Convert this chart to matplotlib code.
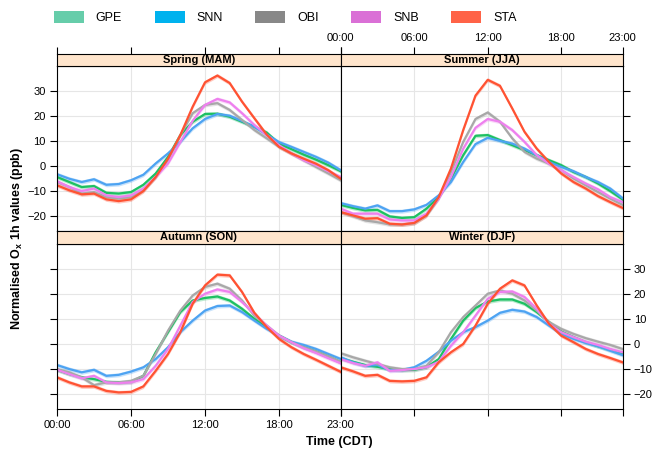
import numpy as np
import matplotlib.pyplot as plt
from matplotlib.patches import Patch

plt.rcParams['font.family'] = ['Liberation Sans', 'DejaVu Sans']
plt.rcParams['mathtext.fontset'] = 'custom'
plt.rcParams['mathtext.rm'] = 'Liberation Sans'
plt.rcParams['mathtext.bf'] = 'Liberation Sans:bold'

# DATA
hours = np.arange(24)
tick_hours = [0, 6, 12, 18, 23]
tick_labels = ['00:00', '06:00', '12:00', '18:00', '23:00']
y_ticks = [-20, -10, 0, 10, 20, 30]
sites = ['GPE', 'SNN', 'OBI', 'SNB', 'STA']
seasons = ['Spring (MAM)', 'Summer (JJA)', 'Autumn (SON)', 'Winter (DJF)']

spring_gpe = [-4.4, -6.4, -8.4, -8.0, -10.7, -11.0, -10.4, -7.5, -3.0, 3.6, 12.3, 17.6,
              20.7, 20.8, 19.6, 17.6, 15.6, 13.3, 8.9, 6.7, 4.5, 2.5, 0.3, -2.1]
spring_snn = [-3.3, -5.1, -6.4, -5.3, -7.5, -7.2, -5.7, -3.5, 1.0, 5.0, 9.6, 15.0,
              18.7, 20.7, 20.0, 17.9, 15.6, 12.5, 9.5, 7.6, 5.6, 3.6, 1.3, -1.7]
spring_obi = [-6.4, -8.4, -11.0, -10.4, -12.4, -13.0, -12.4, -9.7, -4.4, 2.3, 12.3, 21.0,
              24.3, 25.0, 22.3, 18.3, 14.3, 11.0, 7.6, 5.0, 2.3, -0.4, -3.0, -5.7]
spring_snb = [-6.1, -8.4, -10.0, -9.0, -11.7, -12.4, -11.7, -9.0, -4.4, 1.0, 9.5, 18.0,
              24.3, 26.7, 25.3, 21.0, 16.3, 12.3, 8.3, 5.0, 2.3, 0.3, -2.1, -4.4]
spring_sta = [-7.7, -9.7, -11.3, -11.0, -13.3, -14.0, -13.3, -10.0, -4.4, 2.9, 12.3, 23.6,
              33.3, 36.0, 33.0, 25.6, 19.0, 12.5, 7.6, 5.0, 2.9, 0.9, -1.7, -5.1]

summer_gpe = [-15.5, -16.7, -17.7, -17.5, -20.1, -20.7, -20.4, -17.0, -12.4, -5.0, 4.3, 12.0,
              12.3, 10.3, 8.3, 6.3, 4.3, 2.3, 0.3, -2.4, -4.4, -7.0, -10.0, -13.3]
summer_snn = [-14.8, -16.0, -17.0, -15.7, -18.0, -18.0, -17.3, -15.5, -11.7, -6.4, 1.6, 8.7,
              11.2, 10.0, 8.9, 6.9, 4.3, 1.6, -0.4, -2.1, -4.4, -6.4, -9.0, -12.8]
summer_obi = [-18.4, -20.0, -21.7, -22.4, -23.3, -23.3, -22.8, -19.7, -13.0, -2.4, 9.6, 18.7,
              21.3, 17.6, 11.0, 5.6, 2.9, 0.9, -1.7, -5.0, -7.7, -10.4, -13.0, -15.5]
summer_snb = [-17.0, -19.0, -19.0, -19.0, -21.3, -21.7, -21.7, -19.0, -13.0, -4.4, 6.9, 15.2,
              18.7, 17.6, 14.3, 9.6, 4.3, 0.9, -1.7, -4.4, -7.0, -9.3, -12.4, -14.4]
summer_sta = [-18.4, -19.7, -21.0, -20.8, -23.0, -23.3, -22.7, -19.7, -12.4, -1.0, 14.3, 28.0,
              34.3, 31.9, 22.9, 13.6, 6.9, 1.6, -3.0, -6.4, -9.0, -12.0, -14.4, -16.7]

autumn_gpe = [-10.3, -12.0, -13.3, -14.0, -15.1, -15.3, -15.1, -12.7, -3.3, 4.7, 12.7, 17.3,
              18.3, 18.9, 17.3, 14.0, 10.0, 6.7, 3.3, 0.7, -1.3, -3.0, -4.9, -7.3]
autumn_snn = [-8.4, -10.0, -11.3, -10.3, -12.7, -12.3, -11.0, -9.3, -6.0, -1.3, 4.7, 9.3,
              13.3, 15.1, 15.3, 12.7, 9.3, 6.0, 3.3, 0.9, -0.4, -2.0, -4.0, -6.0]
autumn_obi = [-10.0, -11.3, -13.3, -16.4, -15.3, -15.3, -14.7, -12.7, -4.0, 5.3, 13.3, 19.3,
              22.7, 24.0, 22.0, 17.3, 11.3, 7.3, 3.3, 0.7, -1.3, -3.0, -4.9, -7.1]
autumn_snb = [-10.3, -12.0, -13.7, -12.7, -15.3, -15.6, -15.3, -14.0, -8.7, -2.0, 7.3, 16.7,
              20.0, 21.7, 20.7, 16.7, 12.0, 7.3, 3.3, 0.7, -1.7, -3.6, -5.7, -7.7]
autumn_sta = [-13.3, -15.3, -16.9, -16.9, -18.7, -19.3, -19.1, -16.9, -10.7, -4.0, 4.7, 16.0,
              23.3, 27.6, 27.3, 20.7, 12.4, 6.7, 2.0, -1.3, -4.0, -6.3, -8.7, -11.1]

winter_gpe = [-5.7, -7.1, -8.4, -9.1, -10.0, -10.4, -10.3, -9.3, -6.0, 2.0, 9.3, 14.3,
              16.9, 17.7, 17.7, 16.0, 12.7, 8.7, 4.9, 2.7, 0.7, -0.9, -2.3, -4.0]
winter_snn = [-5.3, -7.3, -8.7, -8.4, -10.4, -10.3, -9.3, -6.7, -3.1, 1.3, 4.7, 6.7,
              9.3, 12.4, 13.6, 12.9, 10.7, 7.3, 4.0, 2.0, 0.4, -0.9, -2.7, -4.4]
winter_obi = [-3.7, -5.3, -6.7, -8.0, -9.3, -10.0, -10.0, -8.7, -3.3, 4.7, 10.7, 15.3,
              20.0, 21.3, 20.0, 17.3, 13.3, 8.7, 6.0, 4.0, 2.3, 0.9, -0.4, -2.0]
winter_snb = [-6.0, -7.6, -8.7, -7.3, -10.7, -10.4, -10.0, -9.3, -7.1, -0.7, 4.7, 11.3,
              18.0, 20.7, 20.9, 18.7, 14.0, 8.0, 4.7, 2.7, 0.9, -0.4, -2.0, -3.3]
winter_sta = [-9.3, -10.9, -12.7, -12.3, -14.7, -14.9, -14.7, -13.3, -7.3, -3.3, 0.0, 7.3,
              16.0, 22.0, 25.3, 23.3, 15.3, 8.0, 3.3, 0.7, -2.0, -4.0, -5.6, -7.3]

ci_half = 0.8

season_data = [
    [spring_gpe, spring_snn, spring_obi, spring_snb, spring_sta],
    [summer_gpe, summer_snn, summer_obi, summer_snb, summer_sta],
    [autumn_gpe, autumn_snn, autumn_obi, autumn_snb, autumn_sta],
    [winter_gpe, winter_snn, winter_obi, winter_snb, winter_sta],
]

line_colors = ['#1DC062', '#4DA3F2', '#A8A8A8', '#EE80EE', '#FF5232']
legend_colors = ['#66CDAA', '#00B2EE', '#888888', '#DA70D6', '#FF6347']

# PLOT
W, H = 654, 450
fig = plt.figure(figsize=(W / 100, H / 100), dpi=100)


def px_box(x0, y0, x1, y1):
    return [x0 / W, 1 - y1 / H, (x1 - x0) / W, (y1 - y0) / H]


col_x = [(57, 340.7), (340.7, 622.5)]
row_strip = [(54, 66), (231, 244)]
row_data = [(66, 231), (244, 409)]

for i, season in enumerate(seasons):
    row, col = divmod(i, 2)
    x0, x1 = col_x[col]
    ax = fig.add_axes(px_box(x0, row_data[row][0], x1, row_data[row][1]))
    sx = fig.add_axes(px_box(x0, row_strip[row][0], x1, row_strip[row][1]))

    for vals, c in zip(season_data[i], line_colors):
        v = np.array(vals)
        ax.fill_between(hours, v - ci_half, v + ci_half, color=c, alpha=0.3, lw=0)
        ax.plot(hours, v, color=c, lw=1.6)

    ax.set_xlim(0, 23)
    ax.set_ylim(-25.9, 39.8)
    ax.set_xticks(tick_hours)
    ax.set_xticklabels(tick_labels)
    ax.set_yticks(y_ticks)
    ax.grid(True, color='#E6E6E6', lw=0.8)
    ax.set_axisbelow(True)
    ax.tick_params(direction='out', length=5, width=0.8, labelsize=8, pad=3)
    for s in ax.spines.values():
        s.set_linewidth(0.8)

    # alternating axes, lattice style
    ax.tick_params(axis='x', top=False, labeltop=False,
                   bottom=(row == 1), labelbottom=(row == 1 and col == 0))
    ax.tick_params(axis='y', left=(col == 0), labelleft=(col == 0 and row == 0),
                   right=(col == 1), labelright=(col == 1 and row == 1))

    sx.set_facecolor('#FFE5CC')
    sx.set_xlim(0, 23)
    sx.set_yticks([])
    sx.set_xticks(tick_hours)
    sx.set_xticklabels(tick_labels)
    sx.tick_params(axis='x', direction='out', length=5, width=0.8, labelsize=8, pad=3,
                   bottom=False, labelbottom=False,
                   top=(row == 0), labeltop=(row == 0 and col == 1))
    for s in sx.spines.values():
        s.set_linewidth(0.8)
    sx.text(0.5, 0.5, season, transform=sx.transAxes, ha='center', va='center',
            fontsize=8, fontweight='bold')

handles = [Patch(facecolor=c, edgecolor='none', label=s) for s, c in zip(sites, legend_colors)]
fig.legend(handles=handles, ncol=5, loc='upper left', bbox_to_anchor=(54 / W, 1 - 11 / H),
           frameon=False, fontsize=9, handlelength=2.4, handleheight=1.05,
           handletextpad=0.95, columnspacing=2.6, borderpad=0, borderaxespad=0)

fig.text(339.5 / W, 1 - 441.5 / H, 'Time (CDT)', ha='center', va='center',
         fontsize=9, fontweight='bold')
fig.text(17 / W, 1 - 238 / H, r'Normalised O$_\mathbf{x}$ 1h values (ppb)', ha='center',
         va='center', rotation=90, fontsize=9, fontweight='bold')

plt.savefig('out.png', dpi=100)
